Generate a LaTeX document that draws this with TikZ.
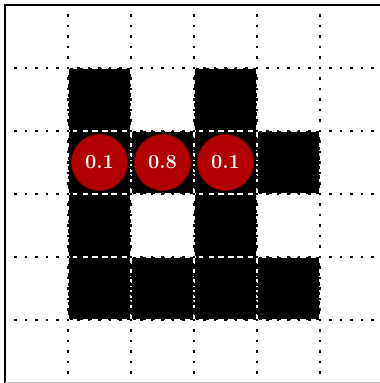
\documentclass[tikz,border=0pt]{standalone}
\usetikzlibrary{calc}
\definecolor{cellred}{RGB}{178,0,0}
\tikzset{
  gridline/.style={black, line width=2.2pt, line cap=butt, dash pattern=on 2.2pt off 8.3pt, dash phase=1.1pt},
  blackcell/.style={fill=black},
  cellrim/.style={draw=white, line width=1.5pt, dash pattern=on 6pt off 3.5pt},
  prob/.style={circle, fill=cellred, draw=cellred!80!black, line width=0.6pt, minimum size=56pt, inner sep=0pt, text=white, font=\fontsize{20}{22}\selectfont\bfseries}
}
\begin{document}
\begin{tikzpicture}[x=1pt,y=-1pt]
\useasboundingbox (0,0) rectangle (380,383);
\begin{scope}
\clip (0,0) rectangle (380,383);
% black cells
\foreach \c/\r in {1/1,3/1,1/2,2/2,3/2,4/2,1/3,3/3,1/4,2/4,3/4,4/4}{
  \fill[blackcell] ({5+63*\c},{5+63*\r}) rectangle ({68+63*\c},{68+63*\r});
  \draw[cellrim] ({5.5+63*\c},{5.5+63*\r}) rectangle ({67.5+63*\c},{67.5+63*\r});
}
% dotted grid
\foreach \k in {1,...,5}{
  \draw[gridline] ({5+63*\k},5) -- ({5+63*\k},383);
  \draw[gridline] (5,{5+63*\k}) -- (383,{5+63*\k});
}
% frame
\draw[black, line width=2pt] (5,383) -- (5,5) -- (383,5);
\draw[black!25, line width=1pt] (5,382.5) -- (383,382.5);
\end{scope}
% probability discs
\node[prob] (p1) at (99.5,162.5) {0.1};
\node[prob] (p2) at (162.5,162.5) {0.8};
\node[prob] (p3) at (225.5,162.5) {0.1};
\end{tikzpicture}
\end{document}
